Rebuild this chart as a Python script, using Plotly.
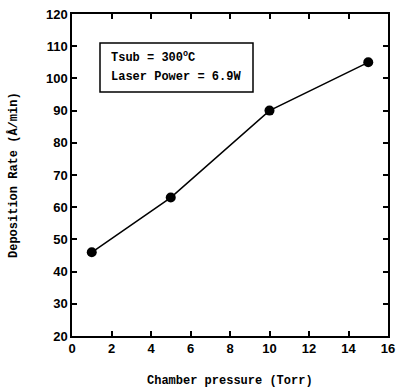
import plotly.graph_objects as go

pressure = [1, 5, 10, 15]
rate = [46, 63, 90, 105]
x_ticks = [0, 2, 4, 6, 8, 10, 12, 14, 16]
y_ticks = [20, 30, 40, 50, 60, 70, 80, 90, 100, 110, 120]

fig = go.Figure()
fig.add_trace(go.Scatter(
    x=pressure, y=rate, mode="lines+markers",
    line=dict(color="black", width=1.5),
    marker=dict(color="black", size=10),
    showlegend=False,
))

axis_common = dict(
    showgrid=False, zeroline=False, showline=True, linecolor="black", linewidth=1.5,
    mirror="allticks", ticks="inside", ticklen=5, tickwidth=1.5, tickcolor="black",
    automargin=False,
    tickfont=dict(family="Liberation Sans", size=13, color="black", weight="bold"),
)

fig.update_xaxes(range=[0, 16], tickvals=x_ticks, **axis_common)
fig.update_yaxes(range=[20, 120], tickvals=y_ticks, **axis_common)

title_font = dict(family="Liberation Mono", size=12, color="black", weight="bold")
fig.add_annotation(xref="paper", yref="paper", x=0.5, y=-45 / 322,
                   text="Chamber pressure (Torr)", showarrow=False,
                   xanchor="center", yanchor="middle", font=title_font)
fig.add_annotation(xref="paper", yref="paper", x=-59 / 316, y=0.5,
                   text="Deposition Rate (Å/min)", showarrow=False, textangle=-90,
                   xanchor="center", yanchor="middle", font=title_font)

fig.add_shape(type="rect", xref="paper", yref="paper",
              x0=(100 - 72) / 316, x1=(253 - 72) / 316,
              y0=(336 - 92) / 322, y1=(336 - 43) / 322,
              line=dict(color="black", width=1.5), fillcolor="white")
fig.add_annotation(xref="paper", yref="paper", x=(109 - 72) / 316, y=(336 - 57) / 322,
                   text="Tsub = 300<sup>o</sup>C", showarrow=False, xanchor="left", yanchor="middle",
                   font=dict(family="Liberation Mono", size=12, color="black", weight="bold"))
fig.add_annotation(xref="paper", yref="paper", x=(109 - 72) / 316, y=(336 - 77) / 322,
                   text="Laser Power = 6.9W", showarrow=False, xanchor="left", yanchor="middle",
                   font=dict(family="Liberation Mono", size=12, color="black", weight="bold"))

fig.update_layout(
    width=396, height=390,
    margin=dict(l=72, r=8, t=14, b=54),
    paper_bgcolor="white", plot_bgcolor="white",
)

fig.write_html("out.html")
